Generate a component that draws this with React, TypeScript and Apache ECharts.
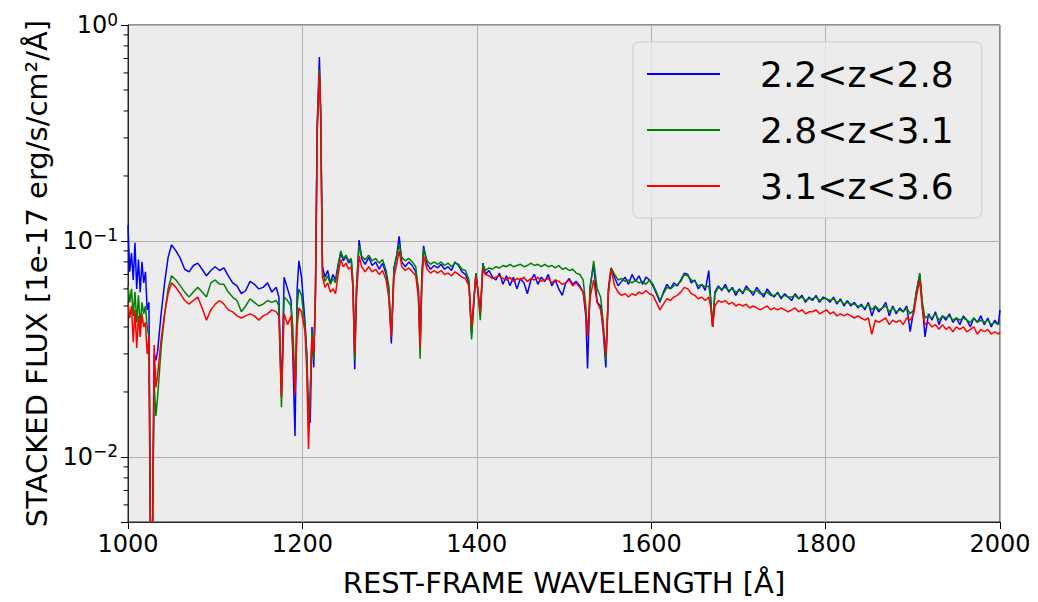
import React, { useEffect, useRef } from 'react';
import * as echarts from 'echarts';

const FONT = '"DejaVu Sans", sans-serif';

const seriesNames = ['2.2<z<2.8', '2.8<z<3.1', '3.1<z<3.6'];
const seriesColors = ['#0000ff', '#008000', '#ff0000'];
const xTicks = { min: 1000, max: 2000, step: 200 };
const yRange = { min: 0.005, max: 1 };
const minorTickValues = [0.006, 0.007, 0.008, 0.009, 0.02, 0.03, 0.04, 0.05, 0.06, 0.07, 0.08, 0.09, 0.2, 0.3, 0.4, 0.5, 0.6, 0.7, 0.8, 0.9];

const wavelength = [
  1000, 1002, 1004, 1006, 1008, 1010, 1012, 1014, 1016, 1018,
  1020, 1022, 1024, 1026, 1028, 1030, 1032, 1034, 1038, 1042,
  1046, 1050, 1055, 1060, 1065, 1070, 1075, 1080, 1085, 1090,
  1095, 1100, 1105, 1110, 1115, 1120, 1125, 1130, 1135, 1140,
  1145, 1150, 1155, 1160, 1165, 1170, 1173, 1176, 1179, 1183,
  1187, 1189, 1191.5, 1194, 1196, 1199, 1203, 1205, 1207, 1209,
  1211, 1213, 1215, 1217, 1219.5, 1221, 1223, 1226, 1229, 1232,
  1235, 1238, 1241, 1244, 1247, 1250, 1253, 1256, 1258, 1260,
  1262, 1265, 1268, 1272, 1276, 1280, 1284, 1288, 1292, 1296,
  1299, 1302, 1305, 1308, 1311, 1314, 1318, 1322, 1326, 1330,
  1333, 1335, 1337, 1339, 1343, 1347, 1351, 1355, 1359, 1363,
  1367, 1371, 1375, 1379, 1383, 1387, 1391, 1394, 1397, 1399,
  1401, 1404, 1407, 1410, 1414, 1418, 1422, 1426, 1430, 1434,
  1438, 1442, 1446, 1450, 1454, 1458, 1462, 1466, 1470, 1474,
  1478, 1482, 1486, 1490, 1494, 1498, 1502, 1506, 1510, 1514,
  1518, 1522, 1525, 1527, 1530, 1534, 1538, 1542, 1545, 1548,
  1551, 1554, 1558, 1562, 1566, 1570, 1574, 1578, 1582, 1586,
  1590, 1594, 1598, 1602, 1606, 1610, 1614, 1618, 1622, 1626,
  1630, 1634, 1638, 1642, 1646, 1650, 1654, 1658, 1662, 1666,
  1668, 1670.5, 1673, 1677, 1681, 1685, 1689, 1693, 1697, 1701,
  1705, 1709, 1713, 1717, 1721, 1725, 1729, 1733, 1737, 1741,
  1745, 1749, 1753, 1757, 1761, 1765, 1769, 1773, 1777, 1781,
  1785, 1789, 1793, 1797, 1801, 1805, 1809, 1813, 1817, 1821,
  1825, 1829, 1833, 1837, 1841, 1845, 1849, 1853, 1857, 1861,
  1865, 1869, 1873, 1877, 1881, 1885, 1889, 1893, 1897, 1901,
  1904, 1908, 1911, 1914, 1918, 1922, 1926, 1930, 1934, 1938,
  1942, 1946, 1950, 1954, 1958, 1962, 1966, 1970, 1974, 1978,
  1982, 1986, 1990, 1994, 1998, 2000,
];

const fluxZ22to28 = [
  0.118, 0.072, 0.088, 0.066, 0.098, 0.060, 0.082, 0.058, 0.080, 0.064,
  0.072, 0.048, 0.052, 0.003, 0.004, 0.030, 0.028, 0.031, 0.046, 0.064,
  0.084, 0.096, 0.090, 0.083, 0.074, 0.072, 0.077, 0.079, 0.074, 0.069,
  0.073, 0.076, 0.073, 0.075, 0.069, 0.064, 0.062, 0.057, 0.059, 0.065,
  0.063, 0.060, 0.061, 0.064, 0.058, 0.061, 0.055, 0.019, 0.068, 0.060,
  0.053, 0.030, 0.0125, 0.060, 0.081, 0.068, 0.042, 0.030, 0.016, 0.0144,
  0.040, 0.026, 0.060, 0.35, 0.71, 0.40, 0.076, 0.068, 0.073, 0.064,
  0.070, 0.066, 0.078, 0.088, 0.081, 0.085, 0.079, 0.082, 0.062, 0.0255,
  0.060, 0.101, 0.083, 0.078, 0.084, 0.077, 0.080, 0.074, 0.079, 0.070,
  0.060, 0.0335, 0.075, 0.085, 0.105, 0.080, 0.076, 0.080, 0.077, 0.072,
  0.060, 0.0335, 0.070, 0.095, 0.078, 0.074, 0.077, 0.075, 0.078, 0.074,
  0.076, 0.073, 0.080, 0.077, 0.072, 0.070, 0.064, 0.037, 0.055, 0.071,
  0.060, 0.046, 0.079, 0.070, 0.073, 0.068, 0.066, 0.071, 0.063, 0.069,
  0.062, 0.068, 0.060, 0.067, 0.064, 0.057, 0.066, 0.070, 0.063, 0.068,
  0.065, 0.070, 0.062, 0.066, 0.060, 0.056, 0.064, 0.067, 0.063, 0.065,
  0.062, 0.058, 0.045, 0.0257, 0.062, 0.078, 0.052, 0.050, 0.038, 0.026,
  0.060, 0.075, 0.068, 0.062, 0.065, 0.068, 0.063, 0.070, 0.065, 0.069,
  0.063, 0.068, 0.066, 0.062, 0.057, 0.052, 0.058, 0.063, 0.060, 0.064,
  0.062, 0.066, 0.071, 0.070, 0.064, 0.066, 0.060, 0.063, 0.059, 0.073,
  0.055, 0.040, 0.058, 0.062, 0.059, 0.063, 0.058, 0.061, 0.056, 0.060,
  0.057, 0.062, 0.059, 0.056, 0.061, 0.058, 0.055, 0.060, 0.057, 0.055,
  0.058, 0.054, 0.057, 0.055, 0.053, 0.057, 0.054, 0.056, 0.052, 0.055,
  0.053, 0.056, 0.052, 0.055, 0.054, 0.052, 0.055, 0.051, 0.054, 0.050,
  0.053, 0.050, 0.052, 0.049, 0.051, 0.048, 0.052, 0.045, 0.050, 0.047,
  0.049, 0.052, 0.045, 0.050, 0.046, 0.049, 0.047, 0.050, 0.038, 0.048,
  0.058, 0.070, 0.050, 0.036, 0.046, 0.043, 0.047, 0.041, 0.045, 0.043,
  0.046, 0.042, 0.044, 0.041, 0.045, 0.043, 0.040, 0.044, 0.042, 0.045,
  0.041, 0.044, 0.040, 0.043, 0.041, 0.048,
];

const fluxZ28to31 = [
  0.062, 0.052, 0.060, 0.045, 0.058, 0.042, 0.056, 0.040, 0.052, 0.046,
  0.050, 0.040, 0.036, 0.003, 0.004, 0.022, 0.0155, 0.019, 0.032, 0.046,
  0.060, 0.069, 0.066, 0.062, 0.058, 0.055, 0.058, 0.061, 0.058, 0.055,
  0.064, 0.066, 0.063, 0.063, 0.058, 0.055, 0.053, 0.047, 0.050, 0.054,
  0.052, 0.050, 0.051, 0.053, 0.052, 0.053, 0.050, 0.017, 0.055, 0.053,
  0.050, 0.040, 0.021, 0.050, 0.060, 0.056, 0.040, 0.030, 0.014, 0.020,
  0.038, 0.028, 0.058, 0.33, 0.62, 0.38, 0.072, 0.065, 0.069, 0.063,
  0.067, 0.064, 0.076, 0.090, 0.083, 0.086, 0.081, 0.083, 0.065, 0.028,
  0.060, 0.095, 0.085, 0.082, 0.086, 0.081, 0.083, 0.079, 0.082, 0.073,
  0.062, 0.036, 0.074, 0.085, 0.096, 0.084, 0.081, 0.083, 0.080, 0.076,
  0.058, 0.0285, 0.068, 0.092, 0.081, 0.078, 0.080, 0.078, 0.080, 0.077,
  0.079, 0.076, 0.079, 0.078, 0.074, 0.073, 0.066, 0.035, 0.055, 0.071,
  0.060, 0.043, 0.078, 0.073, 0.075, 0.074, 0.076, 0.075, 0.077, 0.076,
  0.078, 0.076, 0.077, 0.078, 0.076, 0.077, 0.079, 0.077, 0.078, 0.076,
  0.078, 0.076, 0.077, 0.075, 0.077, 0.074, 0.075, 0.073, 0.074, 0.071,
  0.070, 0.066, 0.050, 0.036, 0.060, 0.081, 0.060, 0.055, 0.042, 0.028,
  0.060, 0.075, 0.070, 0.066, 0.067, 0.065, 0.066, 0.064, 0.066, 0.064,
  0.065, 0.063, 0.066, 0.063, 0.058, 0.053, 0.057, 0.061, 0.060, 0.062,
  0.063, 0.065, 0.070, 0.069, 0.066, 0.065, 0.062, 0.063, 0.061, 0.062,
  0.055, 0.040, 0.057, 0.061, 0.060, 0.061, 0.059, 0.060, 0.058, 0.059,
  0.058, 0.060, 0.059, 0.058, 0.059, 0.057, 0.057, 0.058, 0.056, 0.056,
  0.057, 0.055, 0.056, 0.055, 0.055, 0.056, 0.054, 0.055, 0.053, 0.054,
  0.054, 0.055, 0.053, 0.054, 0.054, 0.053, 0.054, 0.052, 0.053, 0.051,
  0.052, 0.051, 0.051, 0.050, 0.050, 0.049, 0.051, 0.048, 0.050, 0.048,
  0.049, 0.050, 0.047, 0.049, 0.047, 0.048, 0.047, 0.049, 0.046, 0.048,
  0.058, 0.071, 0.052, 0.044, 0.045, 0.044, 0.046, 0.043, 0.045, 0.044,
  0.045, 0.043, 0.044, 0.043, 0.044, 0.043, 0.042, 0.044, 0.042, 0.043,
  0.042, 0.043, 0.041, 0.042, 0.041, 0.042,
];

const fluxZ31to36 = [
  0.052, 0.044, 0.050, 0.034, 0.048, 0.032, 0.045, 0.036, 0.046, 0.040,
  0.042, 0.030, 0.036, 0.003, 0.004, 0.033, 0.021, 0.024, 0.035, 0.046,
  0.057, 0.064, 0.061, 0.057, 0.053, 0.051, 0.053, 0.055, 0.049, 0.043,
  0.048, 0.051, 0.053, 0.051, 0.048, 0.047, 0.045, 0.044, 0.045, 0.046,
  0.045, 0.043, 0.045, 0.046, 0.048, 0.047, 0.045, 0.019, 0.046, 0.041,
  0.045, 0.032, 0.0195, 0.040, 0.049, 0.047, 0.038, 0.025, 0.0109, 0.020,
  0.036, 0.030, 0.055, 0.32, 0.60, 0.37, 0.068, 0.061, 0.064, 0.058,
  0.060, 0.057, 0.070, 0.082, 0.076, 0.079, 0.074, 0.076, 0.060, 0.030,
  0.055, 0.085, 0.076, 0.072, 0.076, 0.072, 0.074, 0.070, 0.073, 0.066,
  0.055, 0.036, 0.068, 0.078, 0.090, 0.076, 0.073, 0.075, 0.072, 0.069,
  0.055, 0.032, 0.064, 0.085, 0.074, 0.071, 0.073, 0.071, 0.073, 0.070,
  0.071, 0.069, 0.072, 0.070, 0.068, 0.067, 0.062, 0.040, 0.056, 0.069,
  0.060, 0.047, 0.074, 0.070, 0.069, 0.067, 0.068, 0.069, 0.067, 0.066,
  0.068, 0.065, 0.067, 0.066, 0.068, 0.065, 0.067, 0.066, 0.068, 0.065,
  0.066, 0.067, 0.064, 0.066, 0.065, 0.063, 0.064, 0.066, 0.062, 0.064,
  0.061, 0.058, 0.048, 0.036, 0.055, 0.066, 0.052, 0.048, 0.040, 0.0297,
  0.058, 0.074, 0.062, 0.058, 0.056, 0.057, 0.055, 0.057, 0.056, 0.058,
  0.057, 0.059, 0.057, 0.056, 0.052, 0.048, 0.051, 0.054, 0.053, 0.055,
  0.056, 0.058, 0.061, 0.060, 0.057, 0.056, 0.054, 0.055, 0.053, 0.055,
  0.050, 0.040, 0.050, 0.053, 0.052, 0.053, 0.051, 0.052, 0.050, 0.051,
  0.050, 0.051, 0.049, 0.050, 0.049, 0.048, 0.049, 0.050, 0.048, 0.049,
  0.048, 0.049, 0.048, 0.047, 0.048, 0.049, 0.047, 0.048, 0.046, 0.047,
  0.047, 0.048, 0.046, 0.047, 0.048, 0.046, 0.047, 0.045, 0.046, 0.045,
  0.046, 0.045, 0.044, 0.045, 0.044, 0.043, 0.044, 0.037, 0.043, 0.042,
  0.043, 0.044, 0.041, 0.043, 0.042, 0.043, 0.041, 0.044, 0.043, 0.046,
  0.055, 0.066, 0.048, 0.041, 0.042, 0.040, 0.041, 0.039, 0.041, 0.039,
  0.040, 0.038, 0.040, 0.039, 0.040, 0.038, 0.039, 0.040, 0.037, 0.039,
  0.038, 0.039, 0.037, 0.038, 0.037, 0.038,
];

const fluxSeries = [fluxZ22to28, fluxZ28to31, fluxZ31to36];

export default function App() {
  const ref = useRef<HTMLDivElement>(null);

  useEffect(() => {
    document.body.style.margin = '0';
    const chart = echarts.init(ref.current as HTMLDivElement, null, { renderer: 'svg' });

    const lineSeries = seriesNames.map((name, si) => ({
      type: 'line',
      name,
      data: wavelength.map((w, i) => [w, fluxSeries[si][i]]),
      showSymbol: false,
      symbol: 'none',
      clip: true,
      z: 2 + si,
      lineStyle: { color: seriesColors[si], width: 1.5 },
      itemStyle: { color: seriesColors[si] },
    }));

    const minorTicks = {
      type: 'custom',
      name: 'minorTicks',
      silent: true,
      clip: false,
      z: 10,
      data: minorTickValues.map((v) => [xTicks.min, v]),
      renderItem: (_params: any, api: any) => {
        const p = api.coord([api.value(0), api.value(1)]);
        return {
          type: 'line',
          shape: { x1: p[0] - 4.5, y1: p[1], x2: p[0], y2: p[1] },
          style: { stroke: '#000', lineWidth: 1 },
        };
      },
    };

    chart.setOption({
      animation: false,
      backgroundColor: '#ffffff',
      grid: {
        left: 128,
        right: 38,
        top: 25,
        bottom: 75,
        containLabel: false,
        show: true,
        backgroundColor: '#ececec',
        borderColor: '#222',
        borderWidth: 1,
      },
      legend: {
        data: seriesNames,
        orient: 'vertical',
        left: 633,
        top: 42,
        padding: [14, 28, 14, 14],
        itemWidth: 73,
        itemHeight: 2,
        itemGap: 20,
        icon: 'rect',
        backgroundColor: 'rgba(236,236,236,0.8)',
        borderColor: '#cccccc',
        borderWidth: 1,
        borderRadius: 6,
        textStyle: {
          fontSize: 36,
          lineHeight: 35,
          fontFamily: FONT,
          color: '#000',
          padding: [0, 0, 0, 35],
        },
      },
      xAxis: {
        type: 'value',
        min: xTicks.min,
        max: xTicks.max,
        interval: xTicks.step,
        name: 'REST-FRAME WAVELENGTH [Å]',
        nameLocation: 'middle',
        nameGap: 46,
        nameTextStyle: { fontSize: 29, fontFamily: FONT, color: '#000' },
        axisLine: { show: true, lineStyle: { color: '#222', width: 1 } },
        axisTick: { show: true, length: 7, inside: false, lineStyle: { color: '#000' } },
        axisLabel: {
          fontSize: 24,
          fontFamily: FONT,
          color: '#000',
          margin: 10,
          formatter: (v: number) => String(v),
        },
        splitLine: { show: true, lineStyle: { color: '#b0b0b0', width: 1 } },
      },
      yAxis: {
        type: 'log',
        logBase: 10,
        min: yRange.min,
        max: yRange.max,
        name: 'STACKED FLUX [1e-17 erg/s/cm²/Å]',
        nameLocation: 'middle',
        nameGap: 68,
        nameTextStyle: { fontSize: 29, fontFamily: FONT, color: '#000' },
        axisLine: { show: true, lineStyle: { color: '#222', width: 1 } },
        axisTick: { show: true, length: 7, inside: false, lineStyle: { color: '#000' } },
        axisLabel: {
          margin: 10,
          formatter: (v: number) => {
            const lg = Math.log10(v);
            const e = Math.round(lg);
            if (Math.abs(lg - e) > 1e-6) return '';
            const exp = e < 0 ? '\u2212' + String(-e) : String(e);
            return '{b|10}{s|' + exp + '}';
          },
          rich: {
            b: { fontSize: 24, fontFamily: FONT, color: '#000', lineHeight: 28 },
            s: { fontSize: 17, fontFamily: FONT, color: '#000', lineHeight: 17, verticalAlign: 'top' },
          },
        },
        splitLine: { show: true, lineStyle: { color: '#b0b0b0', width: 1 } },
      },
      series: [...lineSeries, minorTicks],
    });

    return () => chart.dispose();
  }, []);

  return <div ref={ref} style={{ width: 1038, height: 602 }} />;
}
